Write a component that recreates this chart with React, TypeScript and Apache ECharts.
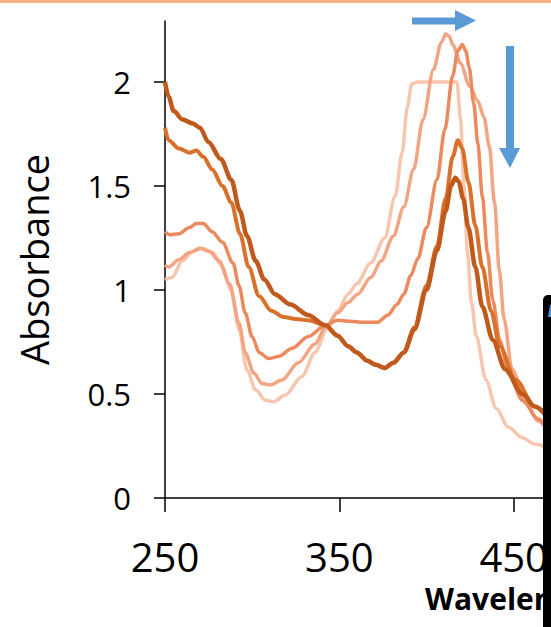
import React, { useEffect, useRef } from "react";
import * as echarts from "echarts";

// Series 1 (darkest, final state)
const wl1 = [250, 252, 255, 260, 266, 270, 275, 282, 288, 293, 297, 302, 307, 313, 322, 332, 342, 349, 355, 360, 366, 371, 376, 381, 387, 393, 400, 406, 411, 414, 416.5, 418.5, 421, 424, 428, 432, 438, 445, 455, 462, 470];
const abs1 = [2.0, 1.93, 1.86, 1.82, 1.8, 1.78, 1.71, 1.63, 1.53, 1.38, 1.26, 1.14, 1.05, 0.98, 0.93, 0.88, 0.83, 0.78, 0.73, 0.7, 0.66, 0.64, 0.625, 0.65, 0.7, 0.81, 1.0, 1.19, 1.38, 1.5, 1.54, 1.52, 1.44, 1.3, 1.11, 0.92, 0.76, 0.62, 0.5, 0.44, 0.39];

// Series 2
const wl2 = [250, 252, 258, 264, 268, 272, 277, 283, 288, 293, 298, 304, 311, 318, 325, 332, 342, 349, 355, 360, 366, 371, 376, 381, 387, 393, 400, 406, 411, 415, 418, 420.5, 424, 428, 432, 437, 442, 451, 462, 470];
const abs2 = [1.78, 1.72, 1.68, 1.66, 1.67, 1.64, 1.58, 1.5, 1.42, 1.27, 1.11, 0.97, 0.9, 0.87, 0.86, 0.855, 0.83, 0.78, 0.73, 0.7, 0.66, 0.64, 0.625, 0.65, 0.7, 0.82, 1.02, 1.21, 1.44, 1.64, 1.72, 1.68, 1.52, 1.31, 1.11, 0.9, 0.73, 0.57, 0.44, 0.38];

// Series 3
const wl3 = [250, 253, 258, 264, 268, 272, 277, 283, 289, 292.5, 296, 300, 304, 309.5, 315, 323, 332, 342, 349, 356, 364, 372, 378, 383, 387, 391, 395, 400, 406, 410.5, 415, 418, 420.5, 422.5, 424.5, 427, 429.5, 432, 435, 438, 442, 447, 455, 464, 470];
const abs3 = [1.28, 1.265, 1.27, 1.3, 1.32, 1.32, 1.28, 1.23, 1.13, 1.02, 0.89, 0.775, 0.7, 0.67, 0.68, 0.72, 0.775, 0.83, 0.855, 0.85, 0.845, 0.845, 0.88, 0.93, 0.98, 1.07, 1.15, 1.3, 1.53, 1.77, 2.03, 2.15, 2.18, 2.15, 2.07, 1.9, 1.7, 1.45, 1.18, 0.95, 0.76, 0.6, 0.47, 0.38, 0.33];

// Series 4
const wl4 = [250, 252, 258, 264, 270, 275.5, 281, 287, 292.5, 296, 301, 305.7, 310.4, 317, 326.5, 336, 342, 349, 355, 360.5, 368, 374, 381, 387, 392.6, 398, 404, 408.5, 411, 413, 415, 419.5, 424.7, 429.4, 433, 436, 439, 441.7, 444.5, 449, 457, 464, 470];
const abs4 = [1.12, 1.11, 1.145, 1.18, 1.2, 1.185, 1.14, 1.03, 0.84, 0.7, 0.6, 0.55, 0.543, 0.567, 0.65, 0.74, 0.82, 0.89, 0.94, 0.98, 1.06, 1.14, 1.26, 1.4, 1.58, 1.82, 2.06, 2.19, 2.23, 2.22, 2.18, 2.09, 1.98, 1.91, 1.83, 1.69, 1.42, 1.1, 0.86, 0.62, 0.455, 0.37, 0.32];

// Series 5 (lightest, initial state)
const wl5 = [250, 254, 260, 266, 271.7, 277.4, 283, 287.8, 292.5, 297, 302, 307.6, 312.3, 319, 328.4, 336, 343.5, 349, 355, 360, 368, 376, 382, 386, 389, 391.5, 395, 405, 417.5, 419.5, 421.5, 423.5, 425.8, 428.5, 434, 440, 447, 455, 462, 470];
const abs5 = [1.05, 1.06, 1.14, 1.185, 1.2, 1.18, 1.11, 1.0, 0.81, 0.615, 0.52, 0.47, 0.463, 0.495, 0.583, 0.7, 0.82, 0.9, 0.98, 1.03, 1.13, 1.25, 1.45, 1.66, 1.88, 1.99, 2.0, 2.0, 2.0, 1.82, 1.5, 1.18, 0.94, 0.78, 0.57, 0.43, 0.34, 0.29, 0.26, 0.24];

const xTicks = [250, 350, 450];
const yTicks = [0, 0.5, 1, 1.5, 2];
const seriesNames = ["S5", "S4", "S3", "S2", "S1"];
const seriesWl = [wl5, wl4, wl3, wl2, wl1];
const seriesAbs = [abs5, abs4, abs3, abs2, abs1];
const seriesColors = ["#F7C6AF", "#F3A583", "#EC8A5D", "#D8712B", "#BF5A1C"];
const seriesWidths = [3.5, 3.5, 3.5, 4, 4.5];

const FONT = "'Open Sans', 'Noto Sans', sans-serif";

export default function App() {
  const ref = useRef<HTMLDivElement>(null);
  useEffect(() => {
    const chart = echarts.init(ref.current!, null, { renderer: "svg" });
    const axisLineStyle = { color: "#000", width: 1.5 };
    chart.setOption({
      animation: false,
      backgroundColor: "#fff",
      grid: { left: 165, top: 21, right: 0, bottom: 129, containLabel: false },
      xAxis: {
        type: "value",
        min: 250,
        max: 468.7,
        axisLine: { show: true, onZero: false, lineStyle: axisLineStyle },
        axisTick: { show: true, inside: false, length: 14, customValues: xTicks, lineStyle: axisLineStyle },
        axisLabel: { customValues: xTicks, fontSize: 40, lineHeight: 40, fontFamily: FONT, color: "#000", margin: 38 },
        splitLine: { show: false },
      },
      yAxis: {
        type: "value",
        min: 0,
        max: 2.293,
        name: "Absorbance",
        nameLocation: "middle",
        nameGap: 112,
        nameTextStyle: { fontSize: 38, fontFamily: FONT, color: "#000" },
        axisLine: { show: true, lineStyle: axisLineStyle },
        axisTick: { show: true, inside: false, length: 11, customValues: yTicks, lineStyle: axisLineStyle },
        axisLabel: { customValues: yTicks, fontSize: 31, fontFamily: FONT, color: "#000", margin: 34 },
        splitLine: { show: false },
      },
      series: seriesNames.map((name, i) => ({
        name,
        type: "line",
        showSymbol: false,
        symbol: "none",
        smooth: 0.3,
        smoothMonotone: "x",
        data: seriesWl[i].map((w, j) => [w, seriesAbs[i][j]]),
        lineStyle: { color: seriesColors[i], width: seriesWidths[i] },
        z: 2 + i,
      })),
      graphic: [
        { type: "rect", shape: { x: 0, y: 0, width: 551, height: 3 }, style: { fill: "#F4B183" }, z: 10 },
        {
          type: "polygon",
          shape: { points: [[412, 17.5], [455, 17.5], [455, 10], [476, 20.5], [455, 31], [455, 24.5], [412, 24.5]] },
          style: { fill: "#5B9BD5" },
          z: 10,
        },
        {
          type: "polygon",
          shape: { points: [[506, 46], [514, 46], [514, 148], [520, 148], [510, 168], [499, 148], [506, 148]] },
          style: { fill: "#5B9BD5" },
          z: 10,
        },
        {
          type: "text",
          x: 425,
          y: 598,
          style: { text: "Wavelength (nm)", fontSize: 30, lineHeight: 30, fontWeight: "bold", fontFamily: FONT, fill: "#000", verticalAlign: "middle", align: "left" },
          z: 10,
        },
        { type: "rect", shape: { x: 543, y: 295, width: 20, height: 340, r: [5, 0, 0, 0] }, style: { fill: "#000" }, z: 20 },
        { type: "polygon", shape: { points: [[548, 317], [550, 305], [552, 305], [552, 317]] }, style: { fill: "#4A9BE0" }, z: 21 },
      ],
    });
    return () => chart.dispose();
  }, []);
  return <div ref={ref} style={{ position: "absolute", left: 0, top: 0, width: 551, height: 627 }} />;
}
